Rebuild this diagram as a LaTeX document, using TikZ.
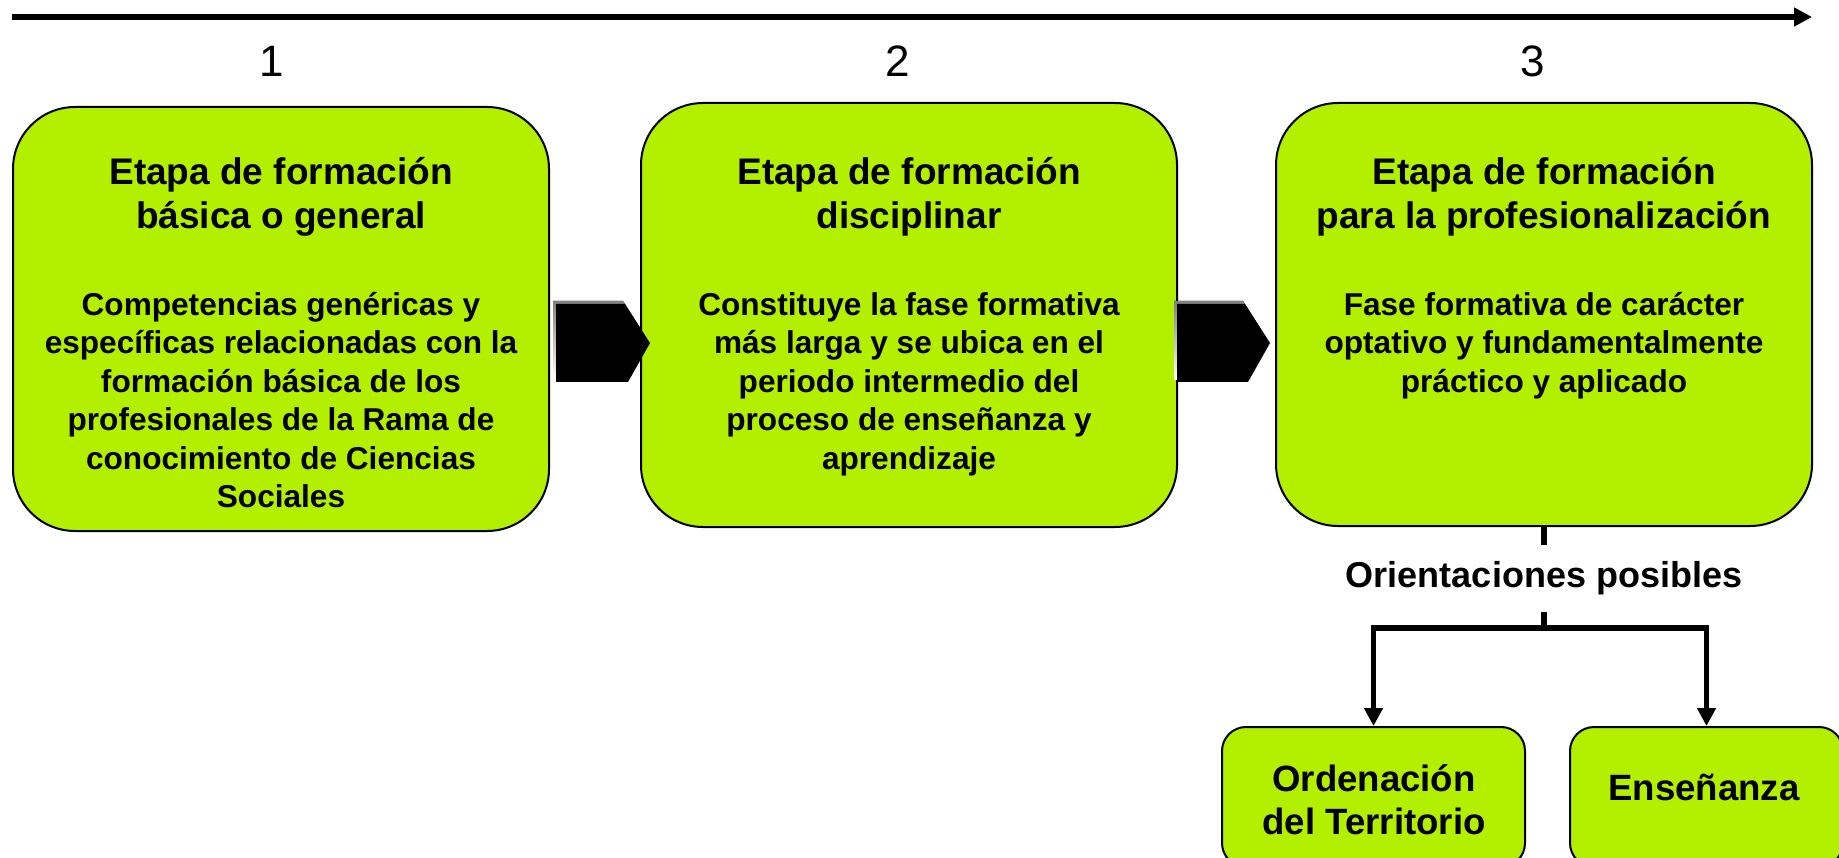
\documentclass[tikz,border=0pt]{standalone}
\usepackage{fontspec}
\setmainfont{Liberation Sans}
\usetikzlibrary{arrows.meta}
\definecolor{lime}{RGB}{178,240,0}
\definecolor{shade}{RGB}{120,120,120}
\tikzset{
  bigbox/.style={draw=black, line width=2pt, fill=lime, rounded corners=62pt, inner sep=0pt},
  smallbox/.style={draw=black, line width=2pt, fill=lime, rounded corners=24pt, inner sep=0pt},
  titletext/.style={align=center, anchor=base, inner sep=0pt, font=\fontsize{37}{44}\selectfont\bfseries},
  bodytext/.style={align=center, anchor=base, inner sep=0pt, font=\fontsize{31.6}{38.5}\selectfont\bfseries},
  numtext/.style={anchor=base, inner sep=0pt, font=\fontsize{44}{50}\selectfont},
  conn/.style={line width=5.5pt, draw=black},
  connarrow/.style={conn, -{Triangle[length=18pt,width=18pt]}}
}
\begin{document}
\begin{tikzpicture}[x=1pt, y=-1pt]
\clip (0,0) rectangle (1839,858);
\fill[white] (0,0) rectangle (1839,858);

% timeline
\coordinate (tl) at (12,17);
\coordinate (tr) at (1812,17);
\draw[line width=6pt, -{Triangle[length=18pt,width=18pt]}] (tl) -- (tr);

% numbers
\node[numtext] (n1) at (272,77) {1};
\node[numtext] (n2) at (898,77) {2};
\node[numtext] (n3) at (1533,77) {3};

% main boxes
\node[bigbox, minimum width=536pt, minimum height=424pt] (b1) at (281,319) {};
\node[bigbox, minimum width=536pt, minimum height=424pt] (b2) at (909,315) {};
\node[bigbox, minimum width=536pt, minimum height=423pt] (b3) at (1544,314.5) {};

% chevrons
\fill[shade] (553,301) -- (623,301) -- (648,341) -- (626,380) -- (553,380) -- cycle;
\fill[black] (556,304) -- (625,304) -- (650,343) -- (628,382) -- (556,382) -- cycle;
\fill[shade] (1174,301) -- (1243,301) -- (1268,341) -- (1246,380) -- (1174,380) -- cycle;
\fill[black] (1177,304) -- (1245,304) -- (1270,343) -- (1248,382) -- (1177,382) -- cycle;

% texts box 1 (anchor = baseline of last line)
\node[titletext] (t1) at (281,229) {Etapa de formación\\básica o general};
\node[bodytext] (d1) at (281,507.5) {Competencias genéricas y\\específicas relacionadas con la\\formación básica de los\\profesionales de la Rama de\\conocimiento de Ciencias\\Sociales};
% texts box 2
\node[titletext] (t2) at (909,229) {Etapa de formación\\disciplinar};
\node[bodytext] (d2) at (909,469) {Constituye la fase formativa\\más larga y se ubica en el\\periodo intermedio del\\proceso de enseñanza y\\aprendizaje};
% texts box 3
\node[titletext] (t3) at (1544,229) {Etapa de formación\\para la profesionalización};
\node[bodytext] (d3) at (1544,392) {Fase formativa de carácter\\optativo y fundamentalmente\\práctico y aplicado};

% orientations
\node[inner sep=0pt, minimum width=10pt, minimum height=67pt, font=\fontsize{36}{40}\selectfont\bfseries] (or) at (1544,578.5) {Orientaciones posibles};
\coordinate (split) at (1544,628);

% lower boxes
\node[smallbox, minimum width=303pt, minimum height=140pt] (lo1) at (1373.5,797) {};
\node[smallbox, minimum width=273pt, minimum height=140pt] (lo2) at (1706.5,797) {};
\node[align=center, inner sep=0pt, font=\fontsize{36.6}{43}\selectfont\bfseries] (lt1) at (1374,800) {Ordenación\\del Territorio};
\node[inner sep=0pt, font=\fontsize{36.6}{43}\selectfont\bfseries] (lt2) at (1704,787) {Enseñanza};

% connectors
\draw[conn] (b3.south) -- (or.north);
\draw[conn] (or.south) -- (split);
\draw[connarrow] ([xshift=2.75pt]split) -| (lo1.north);
\draw[connarrow] ([xshift=-2.75pt]split) -| (lo2.north);
\end{tikzpicture}
\end{document}
